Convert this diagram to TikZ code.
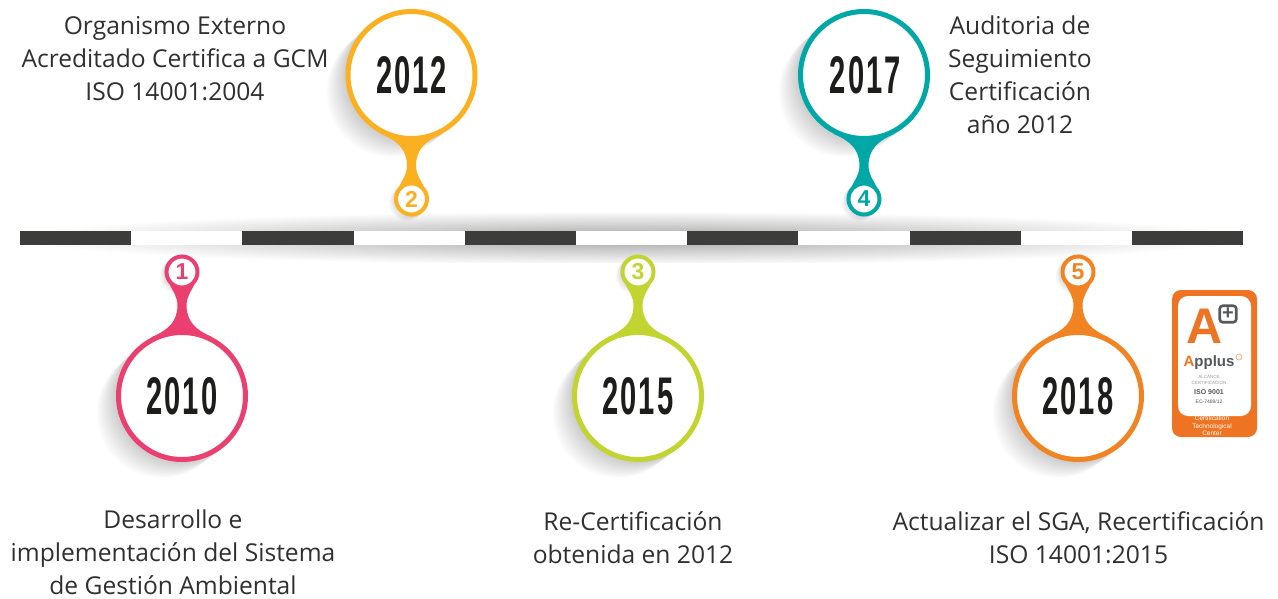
\documentclass[tikz,border=0pt]{standalone}
\usepackage{fontspec}
\setmainfont{Open Sans}
\newfontfamily\digitfont{Liberation Sans}[BoldFont={Liberation Sans Bold}]
\newfontfamily\yearfont{Liberation Sans Bold}[LetterSpace=7]
\definecolor{cpink}{HTML}{EA3F6F}
\definecolor{cyellow}{HTML}{FBB01F}
\definecolor{clime}{HTML}{C2D42F}
\definecolor{cteal}{HTML}{00A7A7}
\definecolor{corange}{HTML}{F28322}
\definecolor{cbar}{HTML}{3C3C3B}
\definecolor{ctext}{HTML}{303030}
\definecolor{cyear}{HTML}{1D1D1B}
\definecolor{cbadge}{HTML}{EE7423}
\definecolor{cplus}{HTML}{55585E}
\tikzset{
  x=1pt,y=-1pt,
  label text/.style={text=ctext,align=center,inner sep=0pt,anchor=center,
    font=\fontsize{24.6}{33}\selectfont},
  ring big/.style={circle,draw=#1,line width=5pt,fill=white,minimum size=127pt,inner sep=0pt},
  ring small/.style={circle,draw=#1,line width=4pt,fill=white,minimum size=31pt,inner sep=0pt},
  year text/.style={text=cyear,font=\yearfont\fontsize{53}{53}\selectfont},
  num text/.style={text=#1,font=\digitfont\bfseries\fontsize{23}{23}\selectfont},
  bar seg/.style={fill=#1,draw=none},
}
\newcommand{\pin}[7]{%
  % #1 name, #2 cx, #3 cy, #4 direction, #5 colour, #6 year, #7 number
  \begin{scope}[shift={(#2,#3)}]
    \foreach \i in {0,...,16}{
      \fill[black,opacity=.012] (-1.3*\i,1.1*\i) circle[radius=66-0.1*\i];
    }
    \foreach \i in {0,...,6}{
      \fill[black,opacity=.018] (-0.8*\i,#4*124+0.7*\i) circle[radius=17.5];
    }
    \begin{scope}[yscale=#4]
      \fill[#5] (-30,59) .. controls (-14,66) and (-5,74) .. (-4.5,90)
        .. controls (-4.5,100) and (-9,104) .. (-13,113)
        -- (13,113) .. controls (9,104) and (4.5,100) .. (4.5,90)
        .. controls (5,74) and (14,66) .. (30,59) -- cycle;
      \node[ring big=#5] (#1big) at (0,0) {};
      \node[ring small=#5] (#1small) at (0,124) {};
    \end{scope}
    \node[year text] at (#1big) {\scalebox{.55}[1]{#6}};
    \node[num text=#5] at (#1small) {#7};
  \end{scope}
}
\begin{document}
\begin{tikzpicture}
\useasboundingbox (0,0) rectangle (1278,599);
\fill[white] (0,0) rectangle (1278,599);
% shadow of the bar
\begin{scope}
  \clip (0,208) rectangle (1278,262);
  \shade[inner color=black!36,outer color=white,draw=none]
    (632,238) ellipse[x radius=615,y radius=27];
\end{scope}
% bar
\foreach \k in {0,...,10}{
  \pgfmathsetmacro{\xa}{20+111.2*\k}
  \pgfmathsetmacro{\xb}{20+111.2*(\k+1)}
  \pgfmathtruncatemacro{\odd}{mod(\k,2)}
  \ifnum\odd=0
    \fill[bar seg=cbar] (\xa,231) rectangle (\xb,245);
  \else
    \fill[bar seg=white] (\xa,231) rectangle (\xb,245);
  \fi
}
% pins
\pin{a}{182}{396}{-1}{cpink}{2010}{1}
\pin{b}{411.5}{75}{1}{cyellow}{2012}{2}
\pin{c}{638}{396}{-1}{clime}{2015}{3}
\pin{d}{864}{75}{1}{cteal}{\hspace{5pt}2017}{4}
\pin{e}{1078}{396}{-1}{corange}{2018}{5}
% labels
\node[label text] (ta) at (175,58.5) {Organismo Externo\\Acreditado Certifica a GCM\\ISO 14001:2004};
\node[label text] (td) at (1020,75) {Auditoria de\\Seguimiento\\Certificación\\año 2012};
\node[label text] (tb) at (173,552.5) {Desarrollo e\\implementación del Sistema\\de Gestión Ambiental};
\node[label text] (tc) at (633,538) {Re-Certificación\\obtenida en 2012};
\node[label text] (te) at (1078.5,538) {Actualizar el SGA, Recertificación\\ISO 14001:2015};
% badge
\fill[cbadge,rounded corners=9pt] (1172,290) rectangle (1257,437);
\fill[white,rounded corners=10pt] (1178,296) rectangle (1251,416);
\node[inner sep=0pt,text=cbadge,font=\digitfont\bfseries\fontsize{50}{50}\selectfont] (bA) at (1205,326) {A};
\node[draw=cplus,line width=2.6pt,fill=white,rounded corners=3pt,minimum size=16.5pt,inner sep=0pt,
  text=cplus,font=\digitfont\bfseries\fontsize{20}{20}\selectfont] (bP) at (1228,314) {+};
\node[inner sep=0pt,text=cplus,font=\digitfont\bfseries\fontsize{15}{15}\selectfont] (bX) at (1209,363)
  {\textcolor{cbadge}{A}pplus};
\node[circle,draw=cbadge!70,line width=.6pt,minimum size=6pt,inner sep=0pt] (bR) at (1239,357) {};
\node[inner sep=0pt,text=gray!80,align=center,font=\digitfont\fontsize{4.5}{6}\selectfont] (bY) at (1209,380)
  {ALCANCE\\CERTIFICACION};
\node[inner sep=0pt,text=cplus,font=\digitfont\bfseries\fontsize{7}{7}\selectfont] (bI) at (1209,392) {ISO 9001};
\node[inner sep=0pt,text=cplus,font=\digitfont\fontsize{5}{5}\selectfont] (bE) at (1209,402) {EC-7489/12};
\node[inner sep=0pt,text=white,align=center,font=\digitfont\fontsize{6.5}{7.5}\selectfont] (bC) at (1212,426)
  {Certification\\Technological\\Center};
\end{tikzpicture}
\end{document}
